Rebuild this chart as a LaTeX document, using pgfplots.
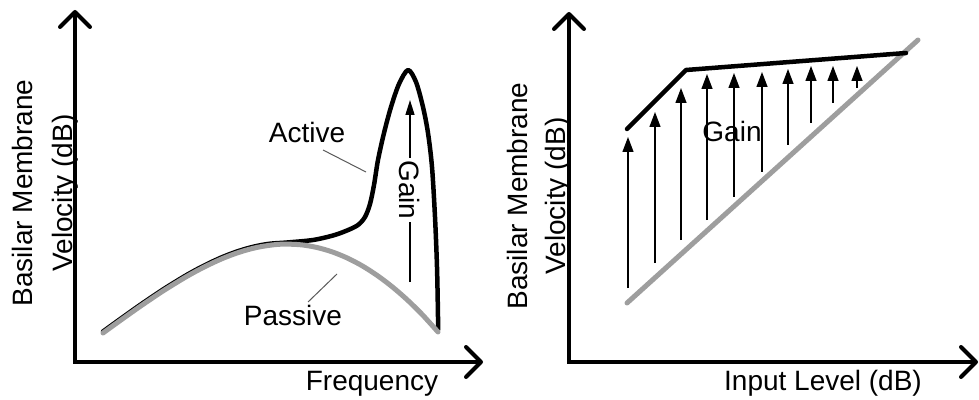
\documentclass[border=0pt]{standalone}
\usepackage{fontspec}
\setmainfont{Liberation Sans}
\usepackage{pgfplots}
\pgfplotsset{compat=1.18}
\usetikzlibrary{arrows.meta}
\definecolor{passivegray}{RGB}{158,158,158}
\definecolor{leadergray}{RGB}{90,90,90}
\newcommand{\lblfont}{\fontsize{28}{34}\selectfont}

\pgfplotsset{
  sketch/.style={
    scale only axis, anchor=south west, enlargelimits=false, clip=false,
    axis x line=bottom, axis y line=left,
    xtick=\empty, ytick=\empty,
    axis line style={line width=4pt, line cap=rect, -{Straight Barb[length=15pt,width=30pt,line cap=round,line join=round]}},
    xmin=0, ymin=0,
  }
}

\begin{document}
\begin{tikzpicture}[x=1pt,y=1pt]
\useasboundingbox (0,0) rectangle (979,399);

% ---------------- Left panel ----------------
\begin{axis}[sketch, at={(75,37)}, width=408pt, height=352pt, xmax=408, ymax=352]
  % active (black)
  \addplot[black, line width=4.5pt, smooth, line cap=round, line join=round] coordinates {
    (28,30.5) (40,39.2) (52,47.8) (64,56.3) (76,64.5) (88,72.5) (100,80) (112,87.2)
    (124,93.8) (136,99.8) (148,105.2) (160,109.8) (172,113.6) (184,116.5) (196,118.4)
    (212,119.5) (238,122) (258,126.5) (272,131.5) (283,137) (290,145) (295,158) (299,177)
    (303,202) (309,229) (316,255) (324,278) (333,292) (341,280) (348,255)
    (353,229) (357,195) (360,145) (362,95) (363,45) (363,32)
  };
  % passive (gray)
  \addplot[passivegray, line width=5pt, smooth, line cap=round] coordinates {
    (28,29) (40,37.7) (52,46.3) (64,54.8) (76,63) (88,71) (100,78.5) (112,85.7)
    (124,92.3) (136,98.3) (148,103.7) (160,108.3) (172,112.1) (184,115) (196,116.9)
    (204,117.7) (212,117.9) (227,117.1) (242,114.5) (257,110.2) (272,104.1)
    (287,96.3) (302,86.7) (317,75.4) (332,62.4) (347,47.7) (363,30)
  };
  % leader lines
  \addplot[leadergray, line width=1pt] coordinates {(248,212) (291,190)};
  \addplot[leadergray, line width=1pt] coordinates {(233,60) (262,88)};
  % gain arrow
  \addplot[black, line width=1.5pt, -{Triangle[length=15pt,width=9pt]}] coordinates {(335,80) (335,262)};
  \node[font=\lblfont, fill=white, inner sep=2pt, rotate=-90] at (axis cs:335,172) {Gain};
  \node[font=\lblfont, anchor=base] at (axis cs:232,219) {Active};
  \node[font=\lblfont, anchor=base] at (axis cs:218,37) {Passive};
  \node[font=\lblfont, anchor=base] at (axis cs:297,-28) {Frequency};
  \node[font=\lblfont, anchor=base, rotate=90] at (axis cs:-43,169) {Basilar Membrane};
  \node[font=\lblfont, anchor=base, rotate=90] at (axis cs:-3,169) {Velocity (dB)};
\end{axis}

% ---------------- Right panel ----------------
\pgfplotstableread{
x y u v
59 74 0 151
86 99 0 151
112 122 0 152
138 142 0 146
165 165 0 124
193 190 0 100
219 217 0 76
242 239 0 57
264 259 0 37
288 274 0 22
}\gainarrows

\begin{axis}[sketch, at={(569,37)}, width=409pt, height=350pt, xmax=409, ymax=350]
  \addplot[passivegray, line width=5pt, line cap=round] coordinates {(58,59) (349,322)};
  \addplot[black, line width=4.5pt, line cap=round, line join=round] coordinates {(58,233) (117,292) (337,309)};
  \addplot[black, line width=1.3pt, -{Triangle[length=15pt,width=11pt]},
    quiver={u=\thisrow{u}, v=\thisrow{v}}] table[x=x, y=y] {\gainarrows};
  \node[font=\lblfont, anchor=base] at (axis cs:163,220) {Gain};
  \node[font=\lblfont, anchor=base] at (axis cs:254,-28) {Input Level (dB)};
  \node[font=\lblfont, anchor=base, rotate=90] at (axis cs:-42,166) {Basilar Membrane};
  \node[font=\lblfont, anchor=base, rotate=90] at (axis cs:-4,166) {Velocity (dB)};
\end{axis}
\end{tikzpicture}
\end{document}
